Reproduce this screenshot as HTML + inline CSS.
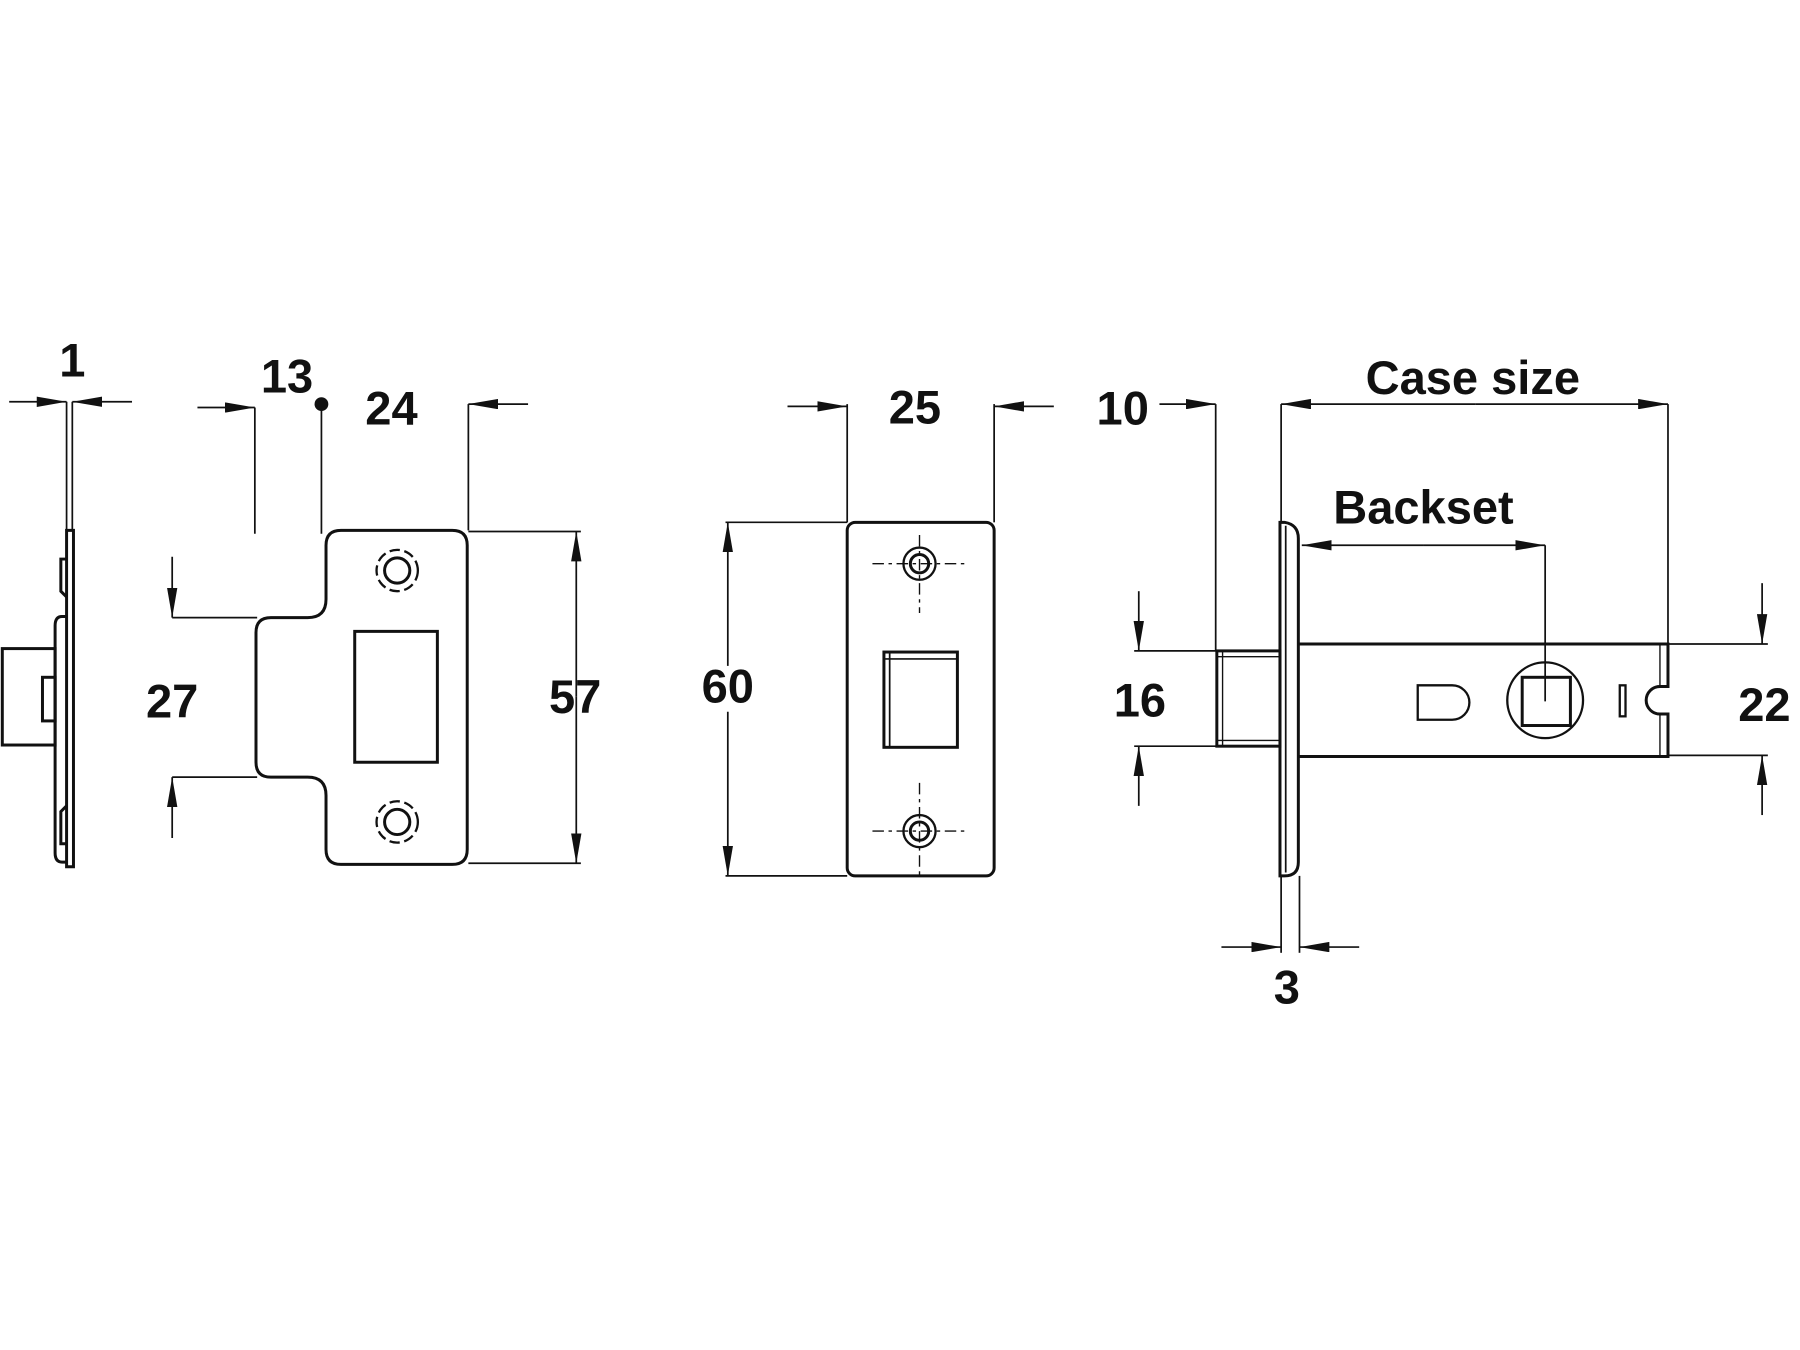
<!DOCTYPE html>
<html><head><meta charset="utf-8"><style>html,body{margin:0;padding:0;background:#fff}svg{display:block}</style></head>
<body>
<svg width="1800" height="1350" viewBox="0 0 1568 1176" xmlns="http://www.w3.org/2000/svg">
<defs>
<marker id="a" viewBox="0 0 26 9" refX="26" refY="4.5" markerWidth="26" markerHeight="9" markerUnits="userSpaceOnUse" orient="auto"><path d="M0,0 L26,4.5 L0,9 z" fill="#111"/></marker>
</defs>
<rect width="1568" height="1176" fill="#fff"/>
<g font-family="Liberation Sans, Arial, sans-serif" font-weight="bold" font-size="41" fill="#111" text-anchor="middle">
<text x="63" y="328">1</text>
<text x="250" y="342">13</text>
<text x="341" y="370">24</text>
<text x="150" y="625">27</text>
<text x="501" y="621">57</text>
<text x="797" y="369">25</text>
<text x="634" y="612">60</text>
<text x="978" y="370">10</text>
<text x="1283" y="343">Case size</text>
<text x="1240" y="456">Backset</text>
<text x="993" y="624">16</text>
<text x="1537" y="628">22</text>
<text x="1121" y="874">3</text>
</g>
<g fill="none" stroke="#111" stroke-width="1.5">
<line x1="58" y1="350" x2="58" y2="462"/><line x1="63" y1="350" x2="63" y2="462"/>
<line x1="8" y1="350" x2="58" y2="350" marker-end="url(#a)"/><line x1="115" y1="350" x2="63" y2="350" marker-end="url(#a)"/>
<line x1="222" y1="355" x2="222" y2="465"/><line x1="280" y1="352" x2="280" y2="465"/>
<line x1="172" y1="355" x2="222" y2="355" marker-end="url(#a)"/>
<line x1="408" y1="352" x2="408" y2="462"/><line x1="460" y1="352" x2="408" y2="352" marker-end="url(#a)"/>
<line x1="408" y1="463" x2="506" y2="463"/><line x1="408" y1="752" x2="506" y2="752"/>
<line x1="502" y1="607" x2="502" y2="463" marker-end="url(#a)"/><line x1="502" y1="607" x2="502" y2="752" marker-end="url(#a)"/>
<line x1="150" y1="538" x2="224" y2="538"/><line x1="150" y1="677" x2="224" y2="677"/>
<line x1="150" y1="485" x2="150" y2="538" marker-end="url(#a)"/><line x1="150" y1="730" x2="150" y2="677" marker-end="url(#a)"/>
<line x1="738" y1="352" x2="738" y2="455"/><line x1="866" y1="352" x2="866" y2="455"/>
<line x1="686" y1="354" x2="738" y2="354" marker-end="url(#a)"/><line x1="918" y1="354" x2="866" y2="354" marker-end="url(#a)"/>
<line x1="632" y1="455" x2="738" y2="455"/><line x1="632" y1="763" x2="738" y2="763"/>
<line x1="634" y1="580" x2="634" y2="455" marker-end="url(#a)"/><line x1="634" y1="620" x2="634" y2="763" marker-end="url(#a)"/>
<line x1="1059" y1="352" x2="1059" y2="567"/><line x1="1010" y1="352" x2="1059" y2="352" marker-end="url(#a)"/>
<line x1="1116" y1="352" x2="1116" y2="455"/><line x1="1453" y1="352" x2="1453" y2="561"/>
<line x1="1285" y1="352" x2="1116" y2="352" marker-end="url(#a)"/><line x1="1285" y1="352" x2="1453" y2="352" marker-end="url(#a)"/>
<line x1="1240" y1="475" x2="1134" y2="475" marker-end="url(#a)"/><line x1="1240" y1="475" x2="1346" y2="475" marker-end="url(#a)"/>
<line x1="1346" y1="475" x2="1346" y2="611"/>
<line x1="988" y1="567" x2="1059" y2="567"/><line x1="988" y1="650" x2="1059" y2="650"/>
<line x1="992" y1="515" x2="992" y2="567" marker-end="url(#a)"/><line x1="992" y1="702" x2="992" y2="650" marker-end="url(#a)"/>
<line x1="1453" y1="561" x2="1540" y2="561"/><line x1="1453" y1="658" x2="1540" y2="658"/>
<line x1="1535" y1="508" x2="1535" y2="561" marker-end="url(#a)"/><line x1="1535" y1="710" x2="1535" y2="658" marker-end="url(#a)"/>
<line x1="1116" y1="763" x2="1116" y2="830"/><line x1="1132" y1="763" x2="1132" y2="830"/>
<line x1="1064" y1="825" x2="1116" y2="825" marker-end="url(#a)"/><line x1="1184" y1="825" x2="1132" y2="825" marker-end="url(#a)"/>
</g>
<circle cx="280" cy="352" r="6" fill="#111"/>
<g fill="none" stroke="#111" stroke-width="2.6">
<path d="M58,462 h6 v293 h-6 z"/>
<path d="M58,487 h-5 v28 l5,5"/>
<path d="M58,735 h-5 v-28 l5,-5"/>
<path d="M58,537 h-4 q-6,0 -6,8 v198 q0,8 6,8 h4"/>
<rect x="2" y="565" width="46" height="84"/>
<rect x="37" y="590" width="11" height="38"/>
<path d="M297,462 H394 Q407,462 407,475 V740 Q407,753 394,753 H297 Q284,753 284,740 V693 Q284,677 268,677 H236 Q223,677 223,664 V551 Q223,538 236,538 H268 Q284,538 284,522 V475 Q284,462 297,462 Z"/>
<rect x="309" y="550" width="72" height="114"/>
<circle cx="346" cy="497" r="11"/><circle cx="346" cy="716" r="11"/>
<circle cx="346" cy="497" r="18" stroke-width="2" stroke-dasharray="9,4"/>
<circle cx="346" cy="716" r="18" stroke-width="2" stroke-dasharray="9,4"/>
<rect x="738" y="455" width="128" height="308" rx="7"/>
<rect x="770" y="568" width="64" height="83"/>
<path d="M775,568 v83 M770,574 h64" stroke-width="1.5"/>
<circle cx="801" cy="491" r="14" stroke-width="2"/><circle cx="801" cy="491" r="8"/>
<circle cx="801" cy="724" r="14" stroke-width="2"/><circle cx="801" cy="724" r="8"/>
<path d="M1115,455 h4 q12,2 12,14 v282 q0,12 -12,12 h-4 z"/>
<line x1="1120" y1="458" x2="1120" y2="760" stroke-width="1.5"/>
<path d="M1131,561 H1453 V598 H1446 A12,12 0 0 0 1446,622 H1453 V659 H1131"/>
<line x1="1446" y1="561" x2="1446" y2="598" stroke-width="1.2"/><line x1="1446" y1="622" x2="1446" y2="659" stroke-width="1.2"/>
<rect x="1060" y="567" width="55" height="83"/>
<path d="M1065,567 v83 M1060,572 h55 M1060,645 h55" stroke-width="1.2"/>
<path d="M1235,597 h30 a15,15 0 0 1 0,30 h-30 z" stroke-width="2"/>
<circle cx="1346" cy="610" r="33" stroke-width="2"/>
<rect x="1326" y="590" width="42" height="42"/>
<rect x="1411" y="597" width="5" height="27" stroke-width="2"/>
</g>
<g stroke="#111" stroke-width="1.2" stroke-dasharray="10,4,3,4">
<line x1="760" y1="491" x2="842" y2="491"/><line x1="801" y1="466" x2="801" y2="534"/>
<line x1="760" y1="724" x2="842" y2="724"/><line x1="801" y1="682" x2="801" y2="762"/>
</g>
</svg>
</body></html>
